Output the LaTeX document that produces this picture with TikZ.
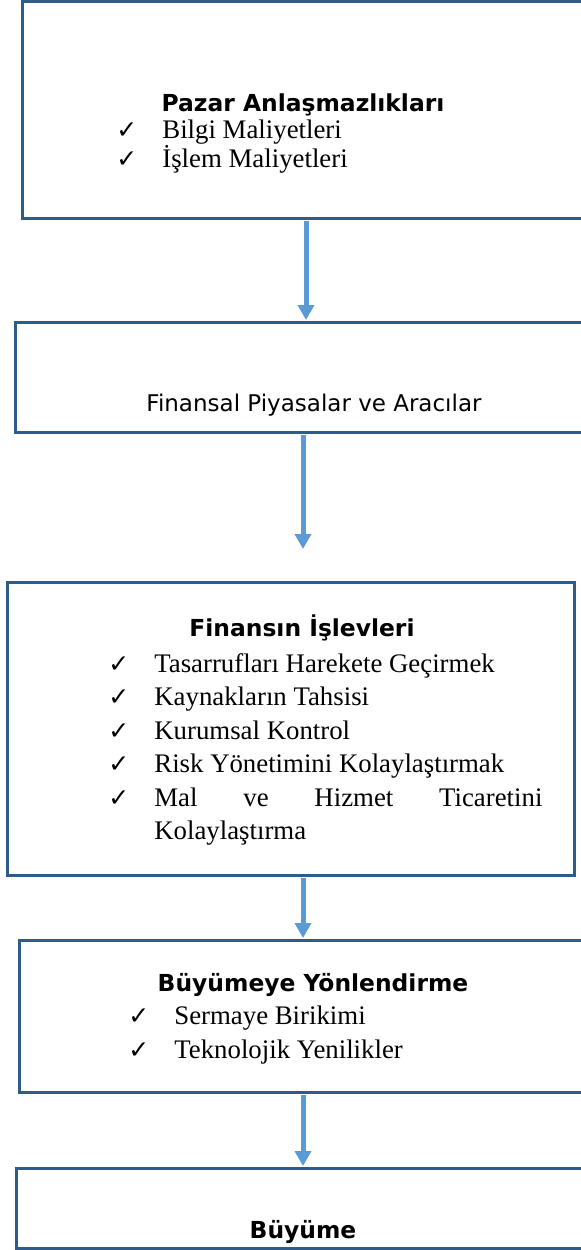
\documentclass[tikz,border=0pt]{standalone}
\usepackage{fontspec}
\setmainfont{Liberation Serif}
\newfontfamily\headfont{DejaVu Sans}
\newfontfamily\tickfont{DejaVu Sans}
\usetikzlibrary{arrows.meta, positioning}
\definecolor{boxblue}{HTML}{2F5B8A}
\definecolor{arrowblue}{HTML}{5B9BD5}
\newcommand{\chk}{\makebox[23pt][l]{\tickfont\fontsize{12.5}{12.5}\selectfont ✓}}

\begin{document}
\begin{tikzpicture}[x=0.5pt, y=-0.5pt]
% Define styles
\tikzstyle{stage} = [rectangle, draw=boxblue, line width=1.5pt, anchor=north west, inner sep=0pt, outer sep=0pt]
\tikzstyle{heading} = [anchor=base, inner sep=0pt, font=\headfont\bfseries\fontsize{11.7}{14}\selectfont]
\tikzstyle{plain} = [anchor=base, inner sep=0pt, font=\headfont\fontsize{11.5}{14}\selectfont]
\tikzstyle{items} = [anchor=base west, inner sep=0pt, font=\fontsize{13.4}{13.5}\selectfont]
\tikzstyle{flow} = [draw=arrowblue, line width=2.5pt, -{Triangle[length=7.5pt, width=8pt]}, shorten >=1pt, shorten <=1.5pt]

\clip (0,0) rectangle (581,1250);

% Boxes
\node (disputes) [stage, minimum width=284pt, minimum height=108.5pt] at (22,1) {};
\node (markets) [stage, minimum width=287.5pt, minimum height=55pt] at (15,322) {};
\node (functions) [stage, minimum width=283.5pt, minimum height=146.5pt] at (7,582) {};
\node (channels) [stage, minimum width=285.5pt, minimum height=76pt] at (19,940) {};
\node (growth) [stage, minimum width=287pt, minimum height=40pt] at (16,1168) {};

% Texts
\node (disputestitle) [heading] at (303,111) {Pazar Anlaşmazlıkları};
\node (disputeslist) [items] at (116,138) {\parbox[t]{230pt}{\chk Bilgi Maliyetleri\\ \chk İşlem Maliyetleri}};
\node (marketstitle) [plain] at (314,411) {Finansal Piyasalar ve Aracılar};
\node (functionstitle) [heading] at (302,636) {Finansın İşlevleri};
\node (functionslist) [items, font=\fontsize{13.4}{16.75}\selectfont] at (108,672) {\parbox[t]{230pt}{\chk Tasarrufları Harekete Geçirmek\\
  \chk Kaynakların Tahsisi\\
  \chk Kurumsal Kontrol\\
  \chk Risk Yönetimini Kolaylaştırmak\\
  \chk\makebox[194pt][s]{Mal\hfill ve\hfill Hizmet\hfill Ticaretini}\\
  \hspace*{23pt}Kolaylaştırma}};
\node (channelstitle) [heading] at (313,991) {Büyümeye Yönlendirme};
\node (channelslist) [items, font=\fontsize{13.4}{17}\selectfont] at (128,1024) {\parbox[t]{230pt}{\chk Sermaye Birikimi\\ \chk Teknolojik Yenilikler}};
\node (growthtitle) [heading] at (303,1238) {Büyüme};

% Arrows
\coordinate (drop) at (303,551);
\draw[flow] (disputes.south) -- (markets.north -| disputes.south);
\draw[flow] (markets.south -| drop) -- (drop);
\draw[flow] (functions.south -| drop) -- (channels.north -| drop);
\draw[flow] (channels.south -| drop) -- (growth.north -| drop);
\end{tikzpicture}
\end{document}
